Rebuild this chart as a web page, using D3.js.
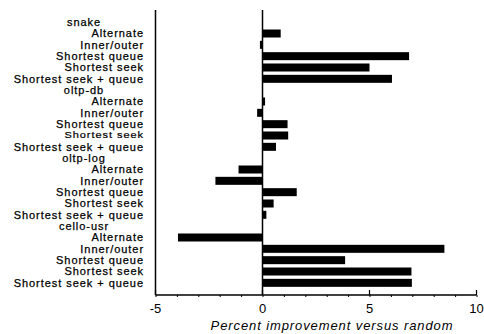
<!DOCTYPE html>
<html>
<head>
<meta charset="utf-8">
<script src="https://cdn.jsdelivr.net/npm/d3@7"></script>
<style>
body { margin: 0; background: #fff; }
text { font-family: "Liberation Sans", Arial, sans-serif; fill: #000; }
</style>
</head>
<body>
<script>
var groups = ["snake", "oltp-db", "oltp-log", "cello-usr"];
var policies = ["Alternate", "Inner/outer", "Shortest queue", "Shortest seek", "Shortest seek + queue"];
var snakeVals = [0.85, -0.12, 6.85, 5.0, 6.05];
var oltpDbVals = [0.12, -0.25, 1.17, 1.2, 0.63];
var oltpLogVals = [-1.12, -2.2, 1.6, 0.52, 0.18];
var celloVals = [-3.95, 8.5, 3.86, 6.96, 6.98];
var xTicks = [-5, 0, 5, 10];

var allVals = [snakeVals, oltpDbVals, oltpLogVals, celloVals];
var rows = [];
groups.forEach(function(g, gi){
	rows.push({ label: g, header: true });
	policies.forEach(function(p, pi){
		rows.push({ label: p, header: false, value: allVals[gi][pi], small: (gi == 1 && pi == 3) });
	});
});

var width = 484, height = 334;
var svg = d3.select("body").append("svg").attr("width", width).attr("height", height);

var x = d3.scaleLinear().domain([-5, 10]).range([155.5, 476.5]);
var y = d3.scaleBand().domain(d3.range(rows.length)).range([16.5, 288.5]);
var barH = 8;

// bars
svg.selectAll("rect.bar")
	.data(rows.filter(function(d){ return !d.header; }))
	.enter().append("rect")
	.attr("class", "bar")
	.attr("x", function(d){ return x(Math.min(0, d.value)); })
	.attr("y", function(d){ return y(rows.indexOf(d)) + y.bandwidth() / 2 - barH / 2; })
	.attr("width", function(d){ return Math.abs(x(d.value) - x(0)); })
	.attr("height", barH)
	.style("fill", "#000");

// labels
svg.selectAll("text.lab")
	.data(rows)
	.enter().append("text")
	.attr("class", "lab")
	.attr("transform", function(d, i){
		var ty = y(i) + y.bandwidth() / 2;
		return "translate(" + (d.header ? 84 : 144) + "," + ty + ")" + (d.small ? " scale(1,0.75)" : "");
	})
	.attr("dy", "0.36em")
	.attr("text-anchor", function(d){ return d.header ? "middle" : "end"; })
	.style("font-size", "11px")
	.style("letter-spacing", "0.95px")
	.style("stroke", "#000").style("stroke-width", 0.25)
	.text(function(d){ return d.label; });

// left axis line and zero line
svg.append("line").attr("x1", x(-5)).attr("x2", x(-5)).attr("y1", 10).attr("y2", 295)
	.attr("stroke", "#000").attr("stroke-width", 1.5);
svg.append("line").attr("x1", x(0)).attr("x2", x(0)).attr("y1", 10).attr("y2", 295)
	.attr("stroke", "#000").attr("stroke-width", 1.5);

// bottom axis
var axisG = svg.append("g").attr("transform", "translate(0,295)");
axisG.call(d3.axisBottom(x).tickValues(d3.range(-5, 11)).tickSize(2).tickFormat(""));
axisG.call(function(g){ g.select(".domain").remove(); });
axisG.append("line").attr("x1", x(-5)).attr("x2", x(10)).attr("stroke", "#000").attr("stroke-width", 1.5);
var major = axisG.selectAll("g.major").data(xTicks).enter().append("g")
	.attr("class", "major")
	.attr("transform", function(d){ return "translate(" + x(d) + ",0)"; });
major.append("line").attr("y1", 0).attr("y2", -5).attr("stroke", "#000").attr("stroke-width", 1.2);
major.append("text").attr("y", 18).attr("text-anchor", "middle")
	.style("font-size", "13px").text(function(d){ return d; });

svg.append("text")
	.attr("x", 332).attr("y", 330)
	.attr("text-anchor", "middle")
	.style("font-size", "13px").style("font-style", "italic")
	.style("letter-spacing", "0.9px")
	.text("Percent improvement versus random");
</script>
</body>
</html>
